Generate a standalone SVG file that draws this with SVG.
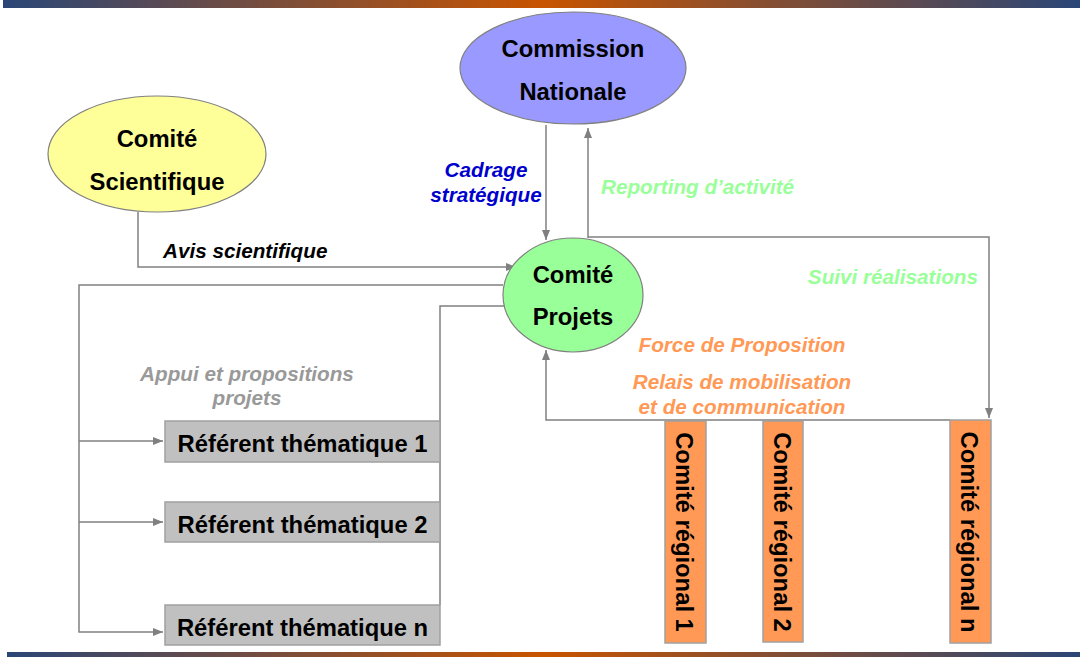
<svg xmlns="http://www.w3.org/2000/svg" width="1080" height="657" viewBox="0 0 1080 657">
<defs>
<linearGradient id="bar" x1="0" y1="0" x2="1" y2="0">
<stop offset="0" stop-color="#2a4677"/>
<stop offset="0.5" stop-color="#c85400"/>
<stop offset="1" stop-color="#2a4677"/>
</linearGradient>
<marker id="ah" markerUnits="userSpaceOnUse" markerWidth="10" markerHeight="8" refX="10" refY="4" orient="auto">
<path d="M0,0 L10,4 L0,8 z" fill="#808080"/>
</marker>
<style>
text{font-family:"Liberation Sans",Arial,sans-serif;font-weight:bold}
.node{font-size:23.8px;fill:#000;text-anchor:middle}
.lbl{font-size:20.7px;font-style:italic}
.con{fill:none;stroke:#808080;stroke-width:1.5}
.arr{marker-end:url(#ah)}
.el{stroke:#808080;stroke-width:1.2}
.ref{fill:#c0c0c0;stroke:#a0a0a0;stroke-width:1.5}
.reg{fill:#ff9955;stroke:#a0a0a0;stroke-width:1.5}
</style>
</defs>
<rect x="3" y="0" width="1077" height="8" fill="url(#bar)"/>
<rect x="7" y="652" width="1073" height="5" fill="url(#bar)"/>

<g id="connectors">
<path class="con arr" d="M546,125 V240"/>
<path class="con arr" d="M588,238 V128"/>
<path class="con arr" d="M588,237 H989 V418"/>
<path class="con arr" d="M138,212 V267 H516"/>
<path class="con arr" d="M503,285 H79 V632 H163"/>
<path class="con arr" d="M79,441 H163"/>
<path class="con arr" d="M79,522 H163"/>
<path class="con arr" d="M440,605 V306 H521"/>
<path class="con arr" d="M950,420 H546 V350"/>
</g>

<g id="commission-nationale">
<ellipse class="el" cx="573" cy="68" rx="113" ry="56" fill="#9999ff"/>
<text class="node" x="573" y="57">Commission</text>
<text class="node" x="573" y="100">Nationale</text>
</g>

<g id="comite-scientifique">
<ellipse class="el" cx="157" cy="154" rx="109" ry="58" fill="#ffff99"/>
<text class="node" x="157" y="147">Comité</text>
<text class="node" x="157" y="190">Scientifique</text>
</g>

<g id="comite-projets">
<ellipse class="el" cx="573" cy="295" rx="70" ry="57" fill="#99ff99"/>
<text class="node" x="573" y="283">Comité</text>
<text class="node" x="573" y="325">Projets</text>
</g>

<g id="referent-1">
<rect class="ref" x="165" y="421" width="275" height="41"/>
<text class="node" x="302.5" y="452">Référent thématique 1</text>
</g>
<g id="referent-2">
<rect class="ref" x="165" y="502" width="275" height="40"/>
<text class="node" x="302.5" y="533">Référent thématique 2</text>
</g>
<g id="referent-n">
<rect class="ref" x="165" y="605" width="275" height="40"/>
<text class="node" x="302.5" y="636">Référent thématique n</text>
</g>

<g id="comite-regional-1">
<rect class="reg" x="665" y="421" width="41" height="222"/>
<text class="node" transform="translate(676,532) rotate(90)" x="0" y="0">Comité régional 1</text>
</g>
<g id="comite-regional-2">
<rect class="reg" x="763" y="421" width="40" height="221"/>
<text class="node" transform="translate(774,532) rotate(90)" x="0" y="0">Comité régional 2</text>
</g>
<g id="comite-regional-n">
<rect class="reg" x="950" y="420" width="41" height="223"/>
<text class="node" transform="translate(961,532) rotate(90)" x="0" y="0">Comité régional n</text>
</g>

<g id="labels">
<text class="lbl" x="486" y="177" fill="#0000cc" text-anchor="middle">Cadrage</text>
<text class="lbl" x="486" y="202" fill="#0000cc" text-anchor="middle">stratégique</text>
<text class="lbl" x="601" y="194" fill="#99ff99">Reporting d’activité</text>
<text class="lbl" x="163" y="258" fill="#000">Avis scientifique</text>
<text class="lbl" x="978" y="284" fill="#99ff99" text-anchor="end">Suivi réalisations</text>
<text class="lbl" x="742" y="352" fill="#ff9955" text-anchor="middle">Force de Proposition</text>
<text class="lbl" x="742" y="389" fill="#ff9955" text-anchor="middle">Relais de mobilisation</text>
<text class="lbl" x="742" y="414" fill="#ff9955" text-anchor="middle">et de communication</text>
<text class="lbl" x="247" y="381" fill="#999999" text-anchor="middle">Appui et propositions</text>
<text class="lbl" x="247" y="405" fill="#999999" text-anchor="middle">projets</text>
</g>
</svg>
